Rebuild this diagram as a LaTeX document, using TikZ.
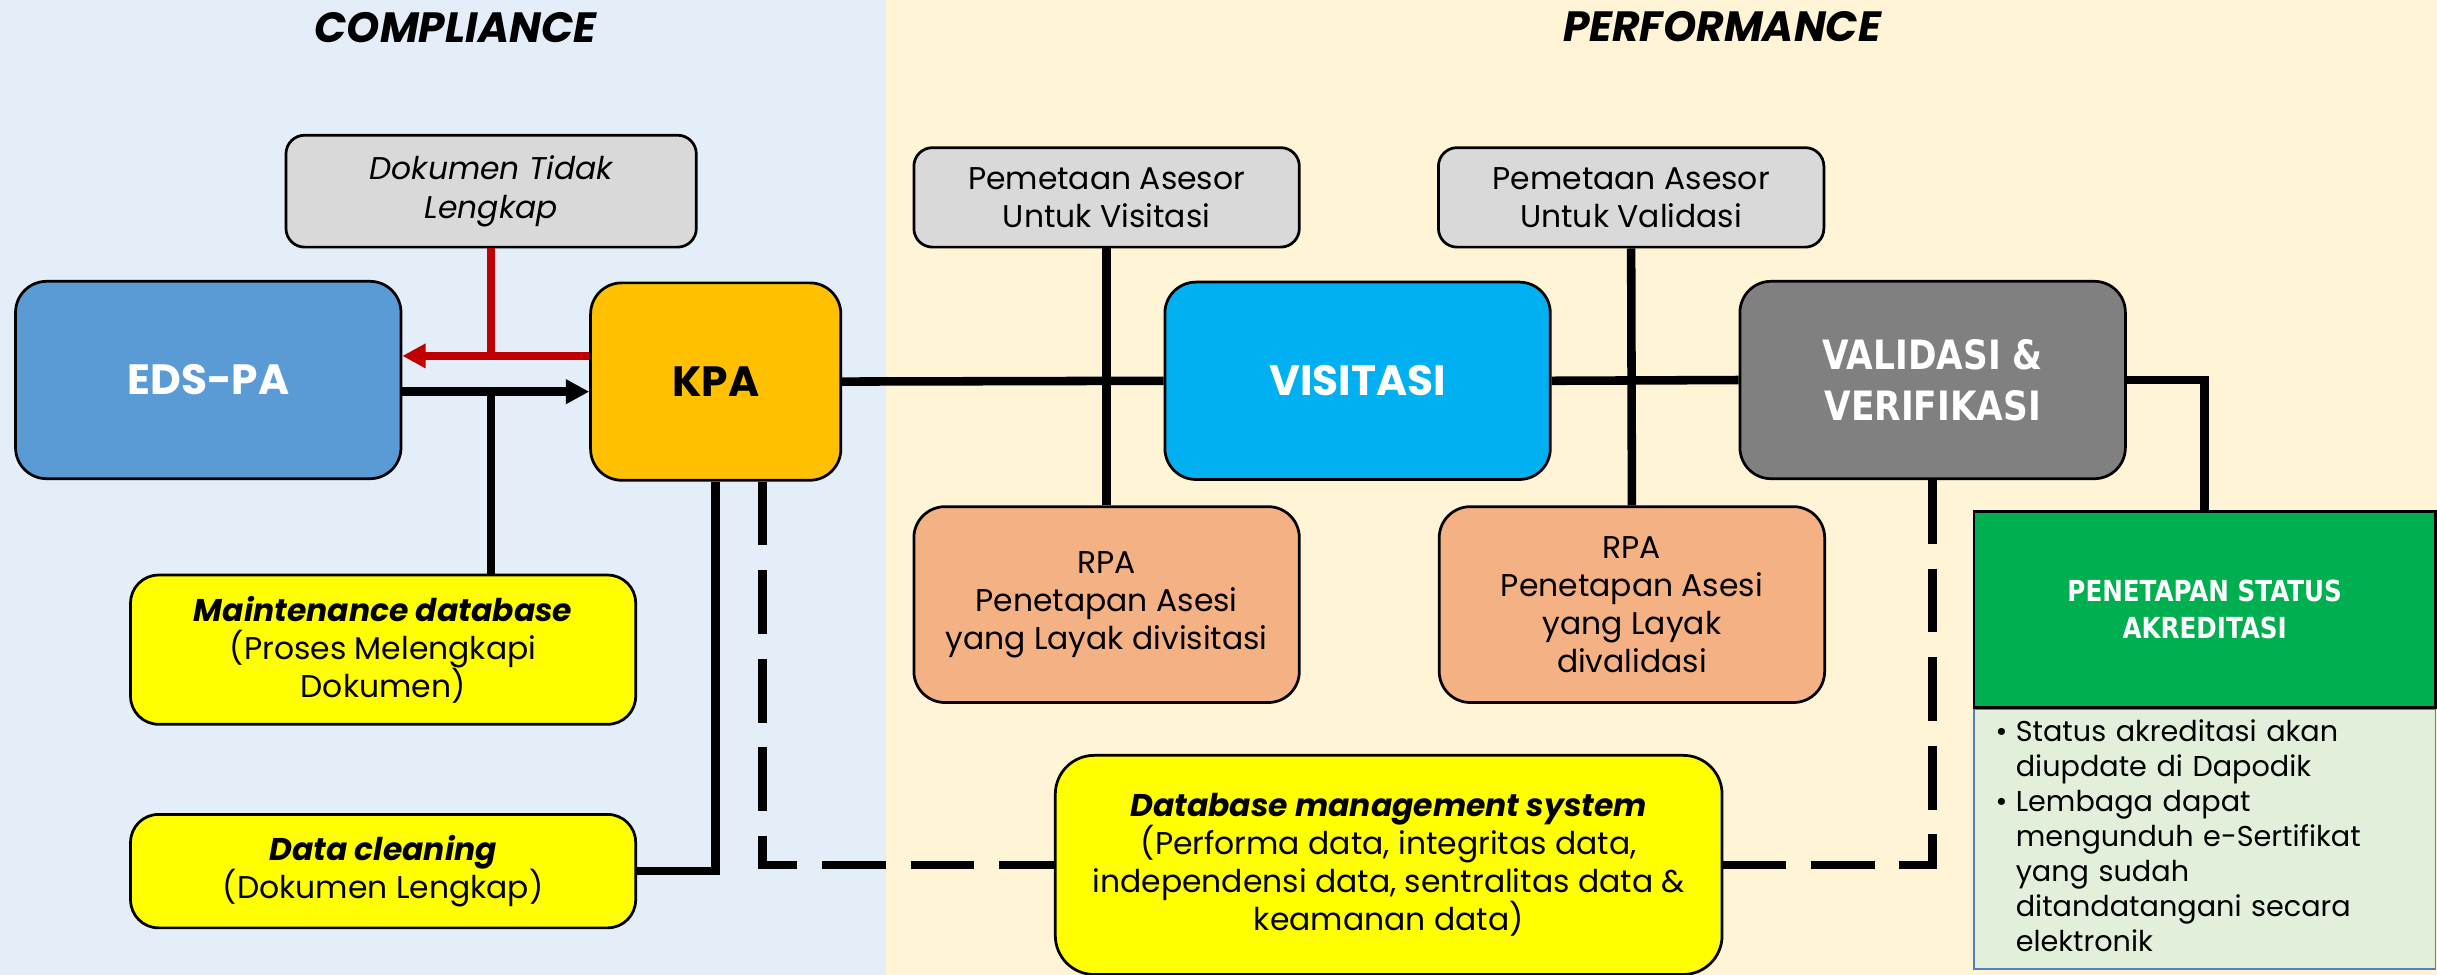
\documentclass[tikz,border=0pt]{standalone}
\usepackage{fontspec}
\setmainfont{Poppins}
\newfontfamily\headfont[FakeStretch=0.85]{DejaVu Sans}
\usetikzlibrary{arrows.meta,positioning}
\definecolor{compBlue}{HTML}{E3EEF8}
\definecolor{perfYellow}{HTML}{FFF4D6}
\definecolor{edsBlue}{HTML}{5B9BD5}
\definecolor{kpaGold}{HTML}{FFC000}
\definecolor{visCyan}{HTML}{00B0F0}
\definecolor{valGray}{HTML}{808080}
\definecolor{noteGray}{HTML}{D9D9D9}
\definecolor{rpaOrange}{HTML}{F4B183}
\definecolor{dataYellow}{HTML}{FFFF00}
\definecolor{backRed}{HTML}{C00000}
\definecolor{statGreen}{HTML}{00B050}
\definecolor{listGreen}{HTML}{E2EFDA}
\definecolor{listBlue}{HTML}{4F81BD}
\tikzset{
    %Define standard arrow tip
    >={Triangle[length=3mm,width=3mm]},
    %Define style for boxes
    box/.style={
           rectangle,
           draw=black, line width=1pt,
           inner sep=0pt,
           align=center},
    mainbox/.style={
           box,
           rounded corners=4mm,
           minimum width=49.6mm,
           minimum height=25.4mm,
           font=\fontsize{15.5}{18}\selectfont\bfseries},
    notebox/.style={
           box,
           fill=noteGray,
           rounded corners=2.4mm,
           minimum width=49.6mm,
           minimum height=12.8mm,
           font=\fontsize{11.5}{14}\selectfont},
    rpabox/.style={
           box,
           fill=rpaOrange,
           rounded corners=4mm,
           minimum width=49.6mm,
           minimum height=25.2mm,
           font=\fontsize{11.5}{14}\selectfont},
    databox/.style={
           box,
           fill=dataYellow,
           rounded corners=3.6mm,
           minimum width=65mm,
           font=\fontsize{11.5}{14}\selectfont},
    title/.style={
           font=\fontsize{15.5}{18}\selectfont\bfseries\itshape},
    % Define line styles
    link/.style={
           line width=1.1mm},
    dashlink/.style={
           line width=1.1mm,
           dash pattern=on 8.2mm off 3.2mm},
    backlink/.style={
           line width=1.1mm,
           draw=backRed}
}
\begin{document}
\begin{tikzpicture}[x=0.2mm,y=-0.2mm]
\useasboundingbox (0,0) rectangle (1568,627.3);
%backgrounds
\fill[compBlue] (0,0) rectangle (570,627.3);
\fill[perfYellow] (570,0) rectangle (1568,627.3);
\node[title] (comp) at (293,18) {COMPLIANCE};
\node[title] (perf) at (1108,17) {PERFORMANCE};
%nodes
\node[mainbox, fill=edsBlue, text=white] (eds) at (134,244.5) {EDS-PA};
\node[mainbox, fill=kpaGold, minimum width=32.2mm] (kpa) at (460.5,245.5) {KPA};
\node[mainbox, fill=visCyan, text=white] (vis) at (873.5,245) {VISITASI};
\node[mainbox, fill=valGray, text=white, font=\headfont\fontsize{14.8}{18.8}\selectfont\bfseries] (val) at (1243.5,244.5) {VALIDASI \&\\VERIFIKASI};
\node[notebox, minimum width=52.8mm, minimum height=14.4mm, font=\fontsize{11.5}{14}\selectfont\itshape] (dok) at (316,123) {Dokumen Tidak\\Lengkap};
\node[notebox] (pemvis) at (712,127) {Pemetaan Asesor\\Untuk Visitasi};
\node[notebox] (pemval) at (1049.5,127) {Pemetaan Asesor\\Untuk Validasi};
\node[rpabox] (rpavis) at (712,389) {RPA\\Penetapan Asesi\\yang Layak divisitasi};
\node[rpabox] (rpaval) at (1050,389) {RPA\\Penetapan Asesi\\yang Layak\\divalidasi};
\node[databox, minimum height=19.2mm] (maint) at (246.5,418) {\textbf{\textit{Maintenance database}}\\(Proses Melengkapi\\Dokumen)};
\node[databox, minimum height=14.6mm] (clean) at (246.5,560.5) {\textbf{\textit{Data cleaning}}\\(Dokumen Lengkap)};
\node[databox, rounded corners=5mm, minimum width=85.8mm, minimum height=28.2mm] (dbms) at (893.5,556.5) {\textbf{\textit{Database management system}}\\(Performa data, integritas data,\\independensi data, sentralitas data \&\\keamanan data)};
\node[box, fill=statGreen, text=white, minimum width=59.4mm, minimum height=25.2mm, font=\headfont\fontsize{10.6}{13.7}\selectfont\bfseries] (stat) at (1418.5,392) {PENETAPAN STATUS\\AKREDITASI};
\node[box, below=0pt of stat, draw=listBlue, line width=0.7pt, fill=listGreen, minimum height=33.4mm, text width=53.8mm, inner xsep=2.8mm, align=left, font=\fontsize{10.5}{12.8}\selectfont] (statlist) {%
\begin{tabular}{@{}p{2.6mm}@{}l@{}}
\textbullet & Status akreditasi akan\\
 & diupdate di Dapodik\\
\textbullet & Lembaga dapat\\
 & mengunduh e-Sertifikat\\
 & yang sudah\\
 & ditandatangani secara\\
 & elektronik
\end{tabular}};
%connectors
\coordinate (redjoin) at (316,229);
\coordinate (fwd) at (316,252);
\draw[backlink] (dok.south) -- (redjoin);
\draw[backlink, ->, backRed] (kpa.west |- redjoin) -- (eds.east |- redjoin);
\draw[link, ->] (eds.east |- fwd) -- (kpa.west |- fwd);
\draw[link] (fwd) -- (maint.north -| fwd);
\draw[link] (kpa.south) |- (clean.east);
\draw[dashlink] ([xshift=6mm]kpa.south) |- (dbms.west);
\draw[dashlink] (val.south) |- (dbms.east);
\draw[link] (kpa.east) -- (vis.west);
\draw[link] (vis.east) -- (val.west);
\draw[link] (pemvis.south) -- (rpavis.north);
\draw[link] (pemval.south) -- (rpaval.north);
\draw[link] (val.east) -| (stat.north);
\end{tikzpicture}
\end{document}
